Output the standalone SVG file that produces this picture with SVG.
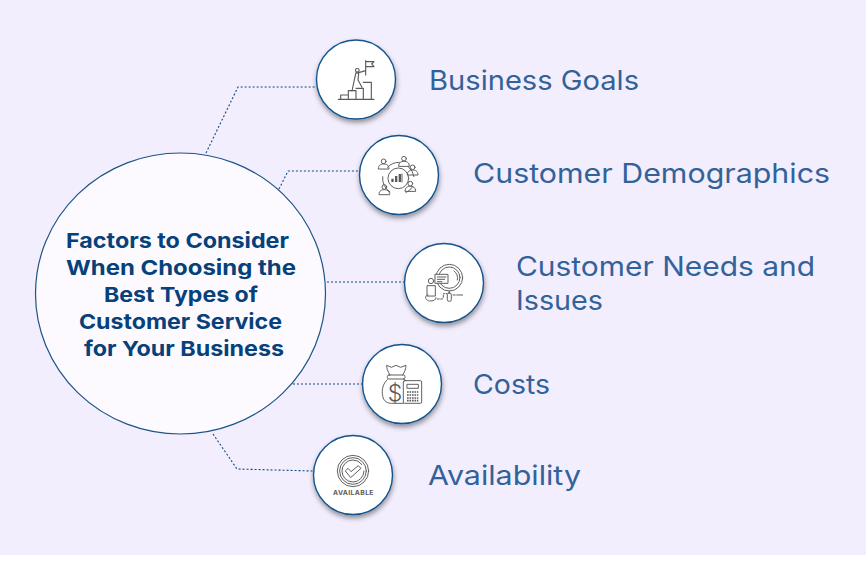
<svg xmlns="http://www.w3.org/2000/svg" width="866" height="567" viewBox="0 0 866 567">
<style>
.hub{fill:#fcfaff;stroke:#1c5488;stroke-width:1.2}
.node{fill:#fff;stroke:#14538d;stroke-width:1.4;filter:url(#sh)}
.link{fill:none;stroke:#0f4a86;stroke-width:1.1;stroke-dasharray:2 2}
.title{font:700 20.6px Inter,"Liberation Sans",sans-serif;fill:#07417a}
.label{font:400 27px Inter,"Liberation Sans",sans-serif;fill:#33629a}
.ic{fill:none;stroke:#5a5a5a;stroke-width:3.4;stroke-linejoin:round;stroke-linecap:round}
.thin{stroke-width:2.9}
.f{fill:#5a5a5a;stroke:none}
</style>
<defs>
<filter id="sh" x="-20%" y="-20%" width="140%" height="150%"><feDropShadow dx="0.5" dy="3" stdDeviation="2.5" flood-color="#000" flood-opacity=".4"/></filter>
<g id="p"><circle cx="0" cy="-11" r="7"/><path d="M-16 11C-16 0-8-3 0-3S16 0 16 11Z"/></g>
</defs>
<rect width="866" height="555" fill="#f2eefd"/>
<g id="connectors">
<path class="link" d="M206 153L238 87H316"/>
<path class="link" d="M279 189L288 171H359"/>
<path class="link" d="M327 282H404"/>
<path class="link" d="M293 384H362"/>
<path class="link" d="M213 434L237 469L313 471"/>
</g>
<g id="hub">
<ellipse class="hub" cx="180.5" cy="293.5" rx="145" ry="140.5"/>
<text class="title" x="66" y="247.5" textLength="223" lengthAdjust="spacingAndGlyphs">Factors to Consider</text>
<text class="title" x="66" y="274.5" textLength="230" lengthAdjust="spacingAndGlyphs">When Choosing the</text>
<text class="title" x="104" y="301.5" textLength="154" lengthAdjust="spacingAndGlyphs">Best Types of</text>
<text class="title" x="79" y="328.5" textLength="203" lengthAdjust="spacingAndGlyphs">Customer Service</text>
<text class="title" x="84" y="355.5" textLength="200" lengthAdjust="spacingAndGlyphs">for Your Business</text>
</g>
<g id="node-goals">
<circle class="node" cx="356" cy="79.5" r="39.5"/>
<g class="ic" transform="translate(300 30) scale(.3333)">
<path d="M115 208H222M122 208V195H145V208M145 195V182H168V208M168 175H190V208M190 157H214V208"/>
<path d="M197 92V135M197 94L222 95L215 102L222 110H197"/>
<circle cx="172" cy="121" r="5.5"/>
<path d="M176 128L197 122M168 128L163 150L156 183M176 130L174 150L186 172M168 128L176 130"/>
</g>
<text class="label" x="429" y="90" textLength="210" lengthAdjust="spacingAndGlyphs">Business Goals</text>
</g>
<g id="node-demographics">
<circle class="node" cx="399" cy="175" r="39.5"/>
<g class="ic thin" transform="translate(300 30) scale(.3333)">
<path d="M262 412A50 50 0 0 1 298 397M325 410A50 50 0 0 1 342 440M338 470A50 50 0 0 1 318 488M270 486A50 50 0 0 1 248 440"/>
<circle cx="295" cy="445" r="31"/>
<path class="f" d="M274 446h7v10h-7zM285 438h7v18h-7zM296 432h7v24h-7z"/>
<path d="M306 432V456"/>
<use href="#p" transform="translate(251 405)"/>
<use href="#p" transform="translate(312 397)"/>
<use href="#p" transform="translate(338 423)"/>
<use href="#p" transform="translate(331 472)"/>
<use href="#p" transform="translate(253 482)"/>
</g>
<text class="label" x="473" y="183" textLength="357" lengthAdjust="spacingAndGlyphs">Customer Demographics</text>
</g>
<g id="node-needs">
<circle class="node" cx="444" cy="283" r="39.5"/>
<g class="ic thin" transform="translate(350 235) scale(.3333)">
<circle cx="298" cy="128" r="40"/>
<circle cx="298" cy="128" r="32"/>
<path d="M312 108A26 26 0 0 1 322 135"/>
<rect x="292" y="174" width="12" height="25" rx="5"/>
<path d="M298 168V174"/>
<rect x="256" y="118" width="38" height="27" fill="#fff"/>
<path d="M262 126H288M262 133H284M262 140H276"/>
<circle cx="243" cy="138" r="8"/>
<path d="M231 182V152H256V182Z"/>
<path d="M234 180C222 182 224 198 243 198C252 198 258 194 258 188"/>
<path d="M262 192H276Q280 192 280 186V176H291" stroke-dasharray="6 4"/>
<path d="M309 180H316M320 180H338"/>
</g>
<text class="label" x="516" y="276" textLength="299" lengthAdjust="spacingAndGlyphs">Customer Needs and</text>
<text class="label" x="516" y="310" textLength="87" lengthAdjust="spacingAndGlyphs">Issues</text>
</g>
<g id="node-costs">
<circle class="node" cx="402" cy="384" r="39.5"/>
<g class="ic thin" transform="translate(350 235) scale(.3333)">
<path d="M120 420C112 408 110 398 110 391L124 397L138 391L152 397L168 391C168 400 165 410 158 420"/>
<rect x="112" y="420" width="53" height="12" rx="5"/>
<path d="M112 434C100 445 96 460 97 475C98 495 108 505 124 505H160"/>
<path d="M160 432L168 437"/>
<rect x="160" y="437" width="55" height="68" rx="4"/>
<rect x="172" y="448" width="33" height="12"/>
<path d="M171 471H205M171 480H205M171 489H205M171 497H205" stroke-width="5" stroke-dasharray="5 2.5" stroke-linecap="butt"/>
</g>
<text x="395" y="401" font-family="Inter,'Liberation Sans',sans-serif" font-size="23" font-weight="300" fill="#5a5a5a" text-anchor="middle">$</text>
<text class="label" x="473" y="394" textLength="77" lengthAdjust="spacingAndGlyphs">Costs</text>
</g>
<g id="node-availability">
<circle class="node" cx="353" cy="475" r="39.5"/>
<g class="ic thin" transform="translate(200 425) scale(.3333)">
<circle cx="459" cy="138" r="47"/>
<circle cx="459" cy="138" r="40"/>
<circle cx="459" cy="138" r="33" stroke-dasharray="185 22"/>
<path d="M437 137L444 130L453 140L475 122L483 130L453 157Z"/>
</g>
<text x="333" y="494.5" font-family="Inter,'Liberation Sans',sans-serif" font-size="6.8" font-weight="700" fill="#5a5a5a" textLength="40.5">AVAILABLE</text>
<text class="label" x="428" y="485" textLength="153" lengthAdjust="spacingAndGlyphs">Availability</text>
</g>
</svg>
